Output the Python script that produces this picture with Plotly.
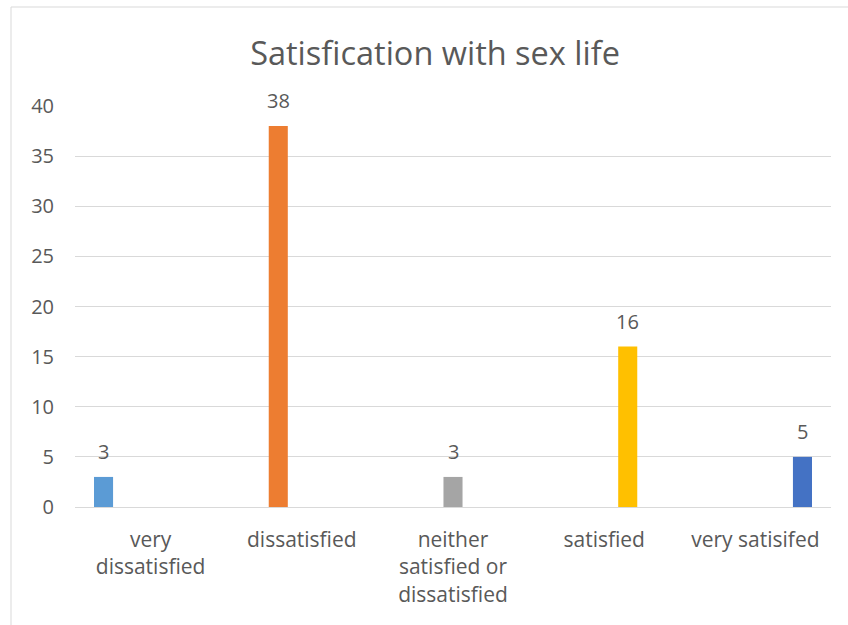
import plotly.graph_objects as go

# Survey responses
categories = ["very<br>dissatisfied", "dissatisfied",
              "neither<br>satisfied or<br>dissatisfied", "satisfied", "very satisifed"]
counts = [3, 38, 3, 16, 5]
colors = ["#5B9BD5", "#ED7D31", "#A5A5A5", "#FFC000", "#4472C4"]
y_ticks = [0, 5, 10, 15, 20, 25, 30, 35, 40]

TEXT = "#595959"
GRID = "#D9D9D9"
FONT = "Open Sans"

fig = go.Figure()

# One series per category so each bar sits in its own slot of the cluster
n = len(categories)
for i, (cat, val, col) in enumerate(zip(categories, counts, colors)):
    y = [val if j == i else None for j in range(n)]
    fig.add_trace(go.Bar(x=categories, y=y, marker=dict(color=col, line=dict(width=0)),
                         showlegend=False, hoverinfo="skip"))

# Value labels above each bar, shifted to that bar's slot in the cluster
plot_w = 848 - 75 - 17
cat_w = plot_w / n
bargap = 0.222
slot = cat_w * (1 - bargap) / n
for i, (cat, val) in enumerate(zip(categories, counts)):
    fig.add_annotation(x=cat, y=val, text=str(val), showarrow=False,
                       xanchor="center", yanchor="bottom",
                       xshift=(i - (n - 1) / 2) * slot, yshift=10,
                       font=dict(family=FONT, size=20, color=TEXT))

fig.update_layout(
    width=848, height=625,
    margin=dict(l=75, r=17, t=106, b=118),
    paper_bgcolor="white", plot_bgcolor="white",
    barmode="group", bargap=bargap, bargroupgap=0.19,
    title=dict(text="Satisfication with sex life", x=0.513, xref="container",
               xanchor="center", y=0.915, yref="container", yanchor="middle",
               font=dict(family=FONT, size=32.5, color=TEXT)),
    font=dict(family=FONT, color=TEXT),
    xaxis=dict(showgrid=False, showline=False, zeroline=False, ticks="",
               tickfont=dict(family=FONT, size=21, color=TEXT),
               ticklabelstandoff=18, fixedrange=True),
    yaxis=dict(range=[0, 40], tickvals=y_ticks, showgrid=True, gridcolor=GRID,
               gridwidth=1, zeroline=True, zerolinecolor=GRID, zerolinewidth=1,
               showline=False, ticks="", ticklabelstandoff=20,
               tickfont=dict(family=FONT, size=20, color=TEXT), fixedrange=True),
    shapes=[dict(type="rect", xref="paper", yref="paper",
                 x0=-64 / plot_w, x1=1.2, y0=-0.5, y1=500 / 401,
                 line=dict(color=GRID, width=1), fillcolor="rgba(0,0,0,0)",
                 layer="below")],
)

fig.write_html("out.html")
